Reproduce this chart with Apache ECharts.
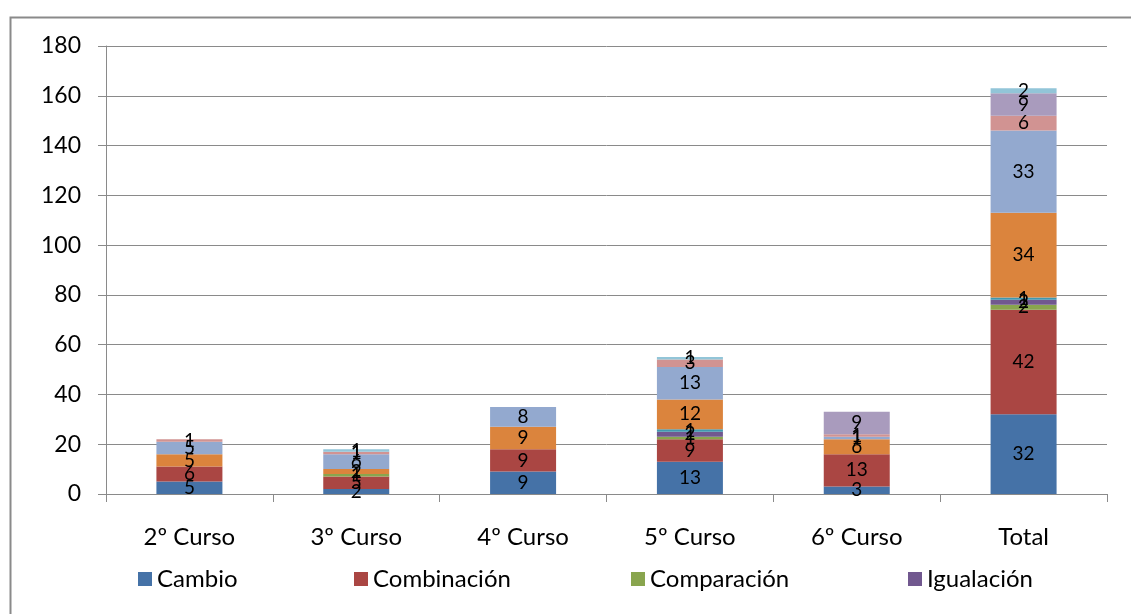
<!DOCTYPE html>
<html>
<head>
<meta charset="utf-8">
<script src="https://cdn.jsdelivr.net/npm/echarts@6/dist/echarts.min.js"></script>
<style>html,body{margin:0;padding:0;background:#fff;}#c{width:1131px;height:614px;}</style>
</head>
<body>
<div id="c"></div>
<script>
const categories = ['2º Curso', '3º Curso', '4º Curso', '5º Curso', '6º Curso', 'Total'];
const yTicks = [0, 20, 40, 60, 80, 100, 120, 140, 160, 180];
const cambio      = [5, 2, 9, 13, 3, 32];
const combinacion = [6, 5, 9, 9, 13, 42];
const comparacion = [0, 1, 0, 1, 0, 2];
const igualacion  = [0, 0, 0, 2, 0, 2];
const serie5      = [0, 0, 0, 1, 0, 1];
const serie6      = [5, 2, 9, 12, 6, 34];
const serie7      = [5, 6, 8, 13, 1, 33];
const serie8      = [1, 1, 0, 3, 1, 6];
const serie9      = [0, 0, 0, 0, 9, 9];
const serie10     = [0, 1, 0, 1, 0, 2];
const seriesNames = ['Cambio', 'Combinación', 'Comparación', 'Igualación', 'Serie 5', 'Serie 6', 'Serie 7', 'Serie 8', 'Serie 9', 'Serie 10'];
const seriesData = [cambio, combinacion, comparacion, igualacion, serie5, serie6, serie7, serie8, serie9, serie10];
const colors = ['#4572A7', '#AA4643', '#89A54E', '#71588F', '#4198AF', '#DB843D', '#93A9CF', '#D19392', '#A99BBD', '#92C5D8'];

const FONT = 'Lato';
const chart = echarts.init(document.getElementById('c'));
const legendLefts = [138, 354, 631, 908];
chart.setOption({
  animation: false,
  color: colors,
  textStyle: { fontFamily: FONT, color: '#000' },
  graphic: [{
    type: 'rect', left: 8, top: 15, silent: true,
    shape: { width: 1200, height: 700 },
    style: { fill: 'none', stroke: '#8a8a8a', lineWidth: 2 }
  }],
  legend: seriesNames.slice(0, 4).map((n, i) => ({
    data: [n], left: legendLefts[i], top: 567, padding: 0, icon: 'rect',
    itemWidth: 14, itemHeight: 14, itemGap: 6,
    textStyle: { fontFamily: FONT, fontSize: 24, color: '#000' },
    selectedMode: false
  })),
  grid: { left: 106, right: 24, top: 46, bottom: 120, containLabel: false },
  xAxis: {
    type: 'category', data: categories,
    axisLine: { lineStyle: { color: '#8a8a8a', width: 1 } },
    axisTick: { show: true, length: 8, lineStyle: { color: '#8a8a8a' } },
    axisLabel: { fontFamily: FONT, fontSize: 24, color: '#000', margin: 31 }
  },
  yAxis: {
    type: 'value', min: yTicks[0], max: yTicks[yTicks.length - 1], interval: yTicks[1] - yTicks[0],
    axisLine: { show: true, lineStyle: { color: '#8a8a8a', width: 1 } },
    axisTick: { show: true, length: 8, lineStyle: { color: '#8a8a8a' } },
    axisLabel: { fontFamily: FONT, fontSize: 23, color: '#000', margin: 25 },
    splitLine: { show: true, lineStyle: { color: '#8a8a8a', width: 1 } }
  },
  series: seriesData.map((d, i) => ({
    name: seriesNames[i], type: 'bar', stack: 'total', data: d,
    barWidth: 66,
    itemStyle: { color: colors[i] },
    label: {
      show: true, position: 'inside', color: '#000', fontFamily: FONT, fontSize: 19,
      formatter: p => (p.value ? String(p.value) : '')
    },
    labelLayout: { hideOverlap: false }
  }))
});
</script>
</body>
</html>
